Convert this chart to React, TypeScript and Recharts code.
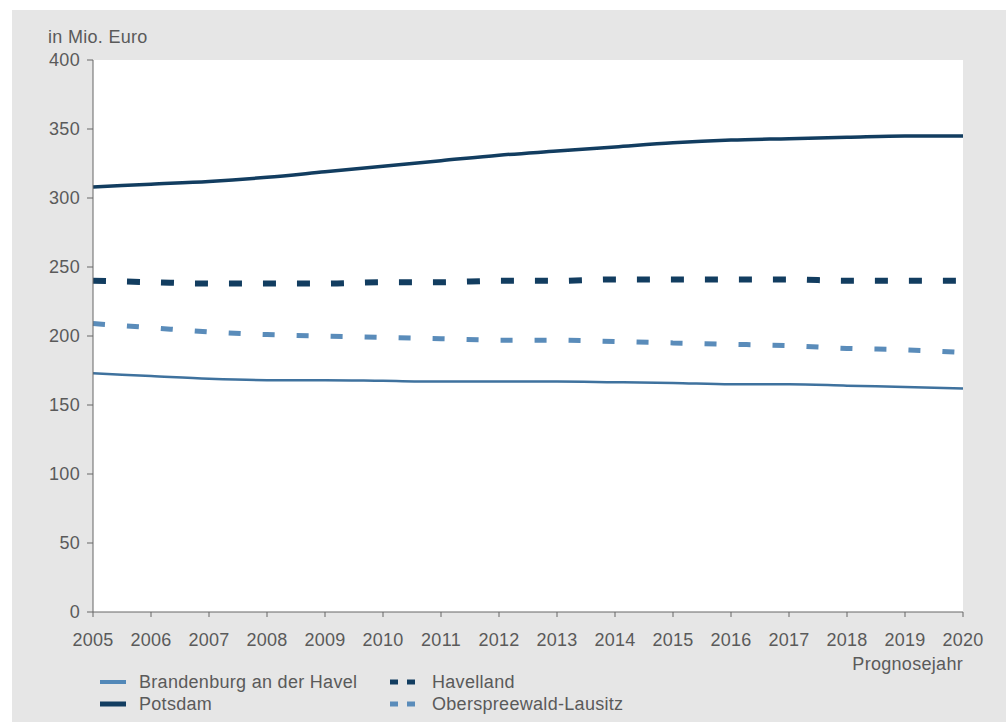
import { LineChart, Line, XAxis, YAxis } from 'recharts';

const years = ['2005', '2006', '2007', '2008', '2009', '2010', '2011', '2012', '2013', '2014', '2015', '2016', '2017', '2018', '2019', '2020'];
const brandenburg = [173, 171, 169, 168, 168, 167.5, 167, 167, 167, 166.5, 166, 165, 165, 164, 163, 162];
const potsdam = [308, 310, 312, 315, 319, 323, 327, 331, 334, 337, 340, 342, 343, 344, 345, 345];
const havelland = [240, 239, 238, 238, 238, 239, 239, 240, 240, 241, 241, 241, 241, 240, 240, 240];
const oberspreewald = [209, 206, 203, 201, 200, 199, 198, 197, 197, 196, 195, 194, 193, 191, 190, 188];
const yTicks = [0, 50, 100, 150, 200, 250, 300, 350, 400];

const chartData = years.map((year, i) => ({
  year,
  brandenburg: brandenburg[i],
  potsdam: potsdam[i],
  havelland: havelland[i],
  oberspreewald: oberspreewald[i],
}));

const FONT = '"Liberation Sans", Arial, sans-serif';
const TEXT = '#5a5a5a';
const DARK = '#123d60';
const LIGHT = '#5a8cba';
const MID = '#3f729e';
const LEGEND_MID = '#5288b8';
const FS = 18;
const LS = 0.3;

const tickStyle = { fill: TEXT, fontSize: FS, fontFamily: FONT, letterSpacing: LS };

// legend placement inside the grey box (box starts at 12,10)
const legendItems = [
  { label: 'Brandenburg an der Havel', color: LEGEND_MID, dash: undefined, width: 4, x1: 88, x2: 114, tx: 127, base: 678 },
  { label: 'Potsdam', color: DARK, dash: undefined, width: 5, x1: 88, x2: 114, tx: 127, base: 700 },
  { label: 'Havelland', color: DARK, dash: '8 9', width: 5, x1: 378, x2: 403, tx: 420, base: 678 },
  { label: 'Oberspreewald-Lausitz', color: LIGHT, dash: '8 9', width: 5, x1: 378, x2: 403, tx: 420, base: 700 },
];

const XLabel = (props: any) => {
  const vb = props.viewBox || {};
  return (
    <text x={vb.x + vb.width} y={vb.y + 58} textAnchor="end" fill={TEXT} fontSize={FS} fontFamily={FONT} letterSpacing={LS}>
      Prognosejahr
    </text>
  );
};

const App = () => {
  return (
    <div style={{ position: 'fixed', left: 0, top: 0, width: 1006, height: 722, background: '#ffffff' }}>
      <div style={{ position: 'absolute', left: 12, top: 10, width: 994, height: 712, background: '#e6e6e6' }}>
        <LineChart width={994} height={712} data={chartData} margin={{ top: 50, right: 43, bottom: 80, left: 0 }}>
          <rect x={81} y={50} width={870} height={552} fill="#ffffff" />
          <text x={36} y={33} fill={TEXT} fontSize={FS} fontFamily={FONT} letterSpacing={LS}>in Mio. Euro</text>
          <XAxis
            dataKey="year"
            height={30}
            interval={0}
            stroke="#666666"
            tickLine={{ stroke: '#666666' }}
            tickSize={5}
            tickMargin={16}
            tick={tickStyle}
            label={<XLabel />}
          />
          <YAxis
            width={81}
            domain={[0, 400]}
            ticks={yTicks}
            stroke="#666666"
            tickLine={{ stroke: '#666666' }}
            tickSize={6}
            tickMargin={7}
            tick={tickStyle}
          />
          <Line type="monotone" dataKey="brandenburg" stroke={MID} strokeWidth={2.5} dot={false} isAnimationActive={false} />
          <Line type="monotone" dataKey="potsdam" stroke={DARK} strokeWidth={3.5} dot={false} isAnimationActive={false} />
          <Line type="monotone" dataKey="havelland" stroke={DARK} strokeWidth={6} strokeDasharray="13 21" dot={false} isAnimationActive={false} />
          <Line type="monotone" dataKey="oberspreewald" stroke={LIGHT} strokeWidth={5} strokeDasharray="12 22" dot={false} isAnimationActive={false} />
          {legendItems.map((item) => (
            <g key={item.label}>
              <line x1={item.x1} y1={item.base - 6} x2={item.x2} y2={item.base - 6} stroke={item.color} strokeWidth={item.width} strokeDasharray={item.dash} />
              <text x={item.tx} y={item.base} fill={TEXT} fontSize={FS} fontFamily={FONT} letterSpacing={LS}>{item.label}</text>
            </g>
          ))}
        </LineChart>
      </div>
    </div>
  );
};

export default App;
